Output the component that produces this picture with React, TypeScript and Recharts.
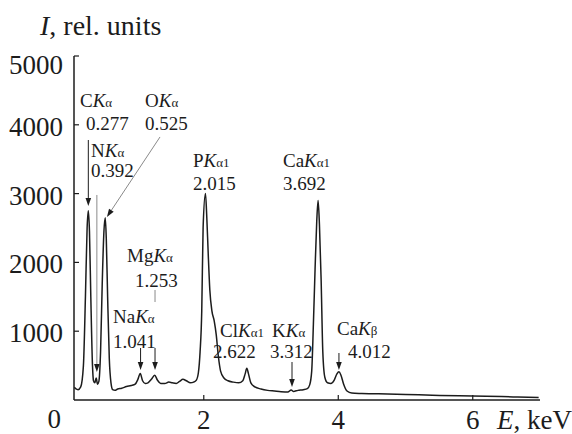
import { LineChart, Line, XAxis, YAxis, ReferenceLine, ReferenceDot } from "recharts";

// EDX spectrum (keV, rel. units)
const energy = [
  0.075, 0.1, 0.13, 0.17, 0.21, 0.24, 0.265, 0.283, 0.3, 0.32, 0.345, 0.36, 0.38, 0.4, 0.42,
  0.44, 0.465, 0.49, 0.515, 0.535, 0.55, 0.57, 0.595, 0.62, 0.645, 0.68, 0.72, 0.78, 0.85,
  0.92, 0.98, 1.02, 1.055, 1.09, 1.13, 1.17, 1.22, 1.27, 1.31, 1.36, 1.42, 1.48, 1.53,
  1.59, 1.64, 1.69, 1.74, 1.8, 1.85, 1.89, 1.92, 1.945, 1.97, 1.99, 2.025, 2.045, 2.065,
  2.09, 2.12, 2.155, 2.185, 2.215, 2.25, 2.3, 2.36, 2.44, 2.52, 2.58, 2.615, 2.64, 2.665,
  2.7, 2.76, 2.85, 2.95, 3.05, 3.15, 3.25, 3.3, 3.335, 3.4, 3.48, 3.54, 3.575, 3.605,
  3.63, 3.655, 3.68, 3.7, 3.72, 3.745, 3.77, 3.8, 3.84, 3.89, 3.94, 3.98, 4.01, 4.04,
  4.08, 4.13, 4.2, 4.35, 4.6, 5.0, 5.4, 5.8, 6.2, 6.6, 6.98,
];
const intensity = [
  185, 160, 150, 190, 500, 1500, 2500, 2750, 2450, 1500, 500, 280, 250, 320, 230,
  270, 700, 1700, 2450, 2650, 2350, 1500, 600, 250, 150, 140, 160, 170, 195,
  210, 230, 300, 385, 280, 240, 250, 300, 360, 290, 240, 240, 260, 250,
  240, 270, 300, 280, 250, 260, 290, 400, 700, 1300, 2500, 3000, 2650, 2150,
  1600, 1300, 1150, 950, 650, 420, 320, 280, 260, 250, 280, 380, 460, 380,
  250, 190, 160, 140, 130, 120, 115, 145, 125, 140, 150, 165, 220, 420,
  1100, 1900, 2600, 2900, 2550, 1750, 700, 330, 250, 240, 290, 380, 410, 360,
  230, 130, 100, 95, 90, 80, 70, 60, 55, 45, 35,
];

const xTicks = [2, 4, 6];
const yTicks = [0, 1000, 2000, 3000, 4000, 5000];

// line names: roman prefix + italic K + small subscript
const lineNames = [
  { pre: "C", sub: "α", e: 0.159, i: 4259 },
  { pre: "O", sub: "α", e: 1.126, i: 4259 },
  { pre: "N", sub: "α", e: 0.323, i: 3532 },
  { pre: "P", sub: "α1", e: 1.84, i: 3387 },
  { pre: "Ca", sub: "α1", e: 3.178, i: 3387 },
  { pre: "Mg", sub: "α", e: 0.858, i: 2006 },
  { pre: "Na", sub: "α", e: 0.65, i: 1119 },
  { pre: "Cl", sub: "α1", e: 2.241, i: 916 },
  { pre: "K", sub: "α", e: 3.015, i: 916 },
  { pre: "Ca", sub: "β", e: 3.981, i: 945 },
];
const lineEnergies = [
  { text: "0.277", e: 0.248, i: 3924 },
  { text: "0.525", e: 1.126, i: 3924 },
  { text: "0.392", e: 0.323, i: 3241 },
  { text: "2.015", e: 1.84, i: 3052 },
  { text: "3.692", e: 3.178, i: 3052 },
  { text: "1.253", e: 0.977, i: 1642 },
  { text: "1.041", e: 0.65, i: 756 },
  { text: "2.622", e: 2.137, i: 610 },
  { text: "3.312", e: 2.985, i: 610 },
  { text: "4.012", e: 4.145, i: 610 },
];
const pointers = [
  { from: [0.283, 3779], to: [0.283, 2820], head: true, gray: false },
  { from: [0.41, 2980], to: [0.41, 407], head: true, gray: true },
  { from: [1.349, 3823], to: [0.56, 2660], head: true, gray: true },
  { from: [1.275, 1599], to: [1.275, 1424], head: false, gray: true },
  { from: [1.06, 756], to: [1.06, 436], head: true, gray: false },
  { from: [1.275, 756], to: [1.275, 436], head: true, gray: false },
  { from: [3.312, 552], to: [3.312, 189], head: true, gray: false },
  { from: [4.01, 683], to: [4.01, 436], head: true, gray: false },
];

const data = energy.map((e, k) => ({ e, v: intensity[k] }));

const SERIF = "'Liberation Serif', 'Times New Roman', serif";
const INK = "#1c1c1c";

const XTick = (p: any) => (
  <g>
    <line x1={p.x} x2={p.x} y1={p.y} y2={p.y - 5} stroke={INK} strokeWidth={1.2} />
    <text x={p.x} y={p.y + 29} textAnchor="middle" fontFamily={SERIF} fontSize={27} fill={INK}>
      {p.payload.value}
    </text>
  </g>
);

const YTick = (p: any) => {
  const v = p.payload.value;
  if (v === 0) {
    return (
      <text x={p.x - 13} y={p.y + 28} textAnchor="end" fontFamily={SERIF} fontSize={27} fill={INK}>
        0
      </text>
    );
  }
  return (
    <g>
      <line x1={p.x} x2={p.x + 5} y1={p.y} y2={p.y} stroke={INK} strokeWidth={1.2} />
      <text x={p.x - 11} y={p.y + (v === 5000 ? 18 : 11)} textAnchor="end" fontFamily={SERIF} fontSize={27} fill={INK}>
        {v}
      </text>
    </g>
  );
};

const pointerShape = (head: boolean, color: string) => (p: any) => {
  const { x1, y1, x2, y2 } = p;
  const dx = x2 - x1;
  const dy = y2 - y1;
  const len = Math.hypot(dx, dy) || 1;
  const ux = dx / len;
  const uy = dy / len;
  const hl = 8;
  const hw = 2.8;
  const bx = x2 - ux * hl;
  const by = y2 - uy * hl;
  return (
    <g>
      <line x1={x1} y1={y1} x2={head ? bx : x2} y2={head ? by : y2} stroke={color} strokeWidth={1} />
      {head && (
        <polygon
          points={`${x2},${y2} ${bx - uy * hw},${by + ux * hw} ${bx + uy * hw},${by - ux * hw}`}
          fill={INK}
        />
      )}
    </g>
  );
};

export default function App() {
  return (
    <div style={{ position: "absolute", left: 0, top: 0, width: 572, height: 434, background: "#fff" }}>
      <LineChart width={572} height={434} data={data} margin={{ top: 56, right: 32, left: 0, bottom: 0 }}>
        <XAxis
          dataKey="e"
          type="number"
          domain={[0.07, 7]}
          ticks={xTicks}
          allowDataOverflow
          height={34}
          tickSize={0}
          tickMargin={0}
          tickLine={false}
          tick={XTick}
          axisLine={{ stroke: INK, strokeWidth: 1.5 }}
          label={{
            content: (lp: any) => (
              <text x={lp.viewBox.x + lp.viewBox.width - 43} y={lp.viewBox.y + 29} fontFamily={SERIF} fontSize={27} fill={INK}>
                <tspan fontStyle="italic">E</tspan>, keV
              </text>
            ),
          }}
        />
        <YAxis
          type="number"
          domain={[0, 5000]}
          ticks={yTicks}
          width={74}
          tickSize={0}
          tickMargin={0}
          tickLine={false}
          tick={YTick}
          axisLine={{ stroke: INK, strokeWidth: 1.5 }}
          label={{
            content: (lp: any) => (
              <text x={lp.viewBox.x + 40} y={lp.viewBox.y - 21} fontFamily={SERIF} fontSize={28} fill={INK}>
                <tspan fontStyle="italic">I</tspan>, rel. units
              </text>
            ),
          }}
        />
        <Line
          type="monotone"
          dataKey="v"
          stroke={INK}
          strokeWidth={1.5}
          dot={false}
          isAnimationActive={false}
        />
        {pointers.map((a, k) => (
          <ReferenceLine
            key={`p${k}`}
            segment={[
              { x: a.from[0], y: a.from[1] },
              { x: a.to[0], y: a.to[1] },
            ]}
            shape={pointerShape(a.head, a.gray ? "#8a8a8a" : INK)}
          />
        ))}
        {lineNames.map((n, k) => (
          <ReferenceDot
            key={`n${k}`}
            x={n.e}
            y={n.i}
            r={0}
            shape={(p: any) => (
              <text x={p.cx} y={p.cy} fontFamily={SERIF} fontSize={19} fill={INK}>
                {n.pre}
                <tspan fontStyle="italic">K</tspan>
                <tspan fontSize={13}>{n.sub}</tspan>
              </text>
            )}
          />
        ))}
        {lineEnergies.map((n, k) => (
          <ReferenceDot
            key={`v${k}`}
            x={n.e}
            y={n.i}
            r={0}
            shape={(p: any) => (
              <text x={p.cx} y={p.cy} fontFamily={SERIF} fontSize={19} fill={INK}>
                {n.text}
              </text>
            )}
          />
        ))}
      </LineChart>
    </div>
  );
}
